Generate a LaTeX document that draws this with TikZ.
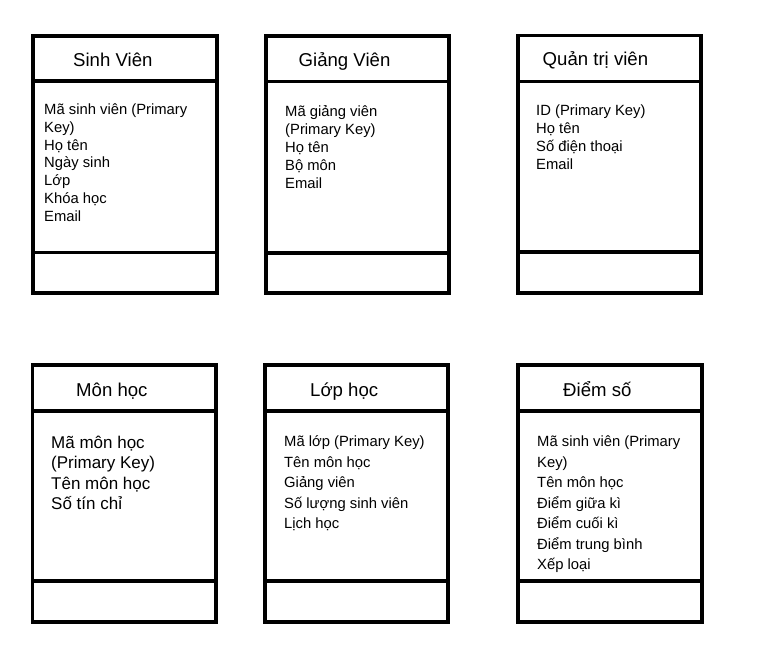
\documentclass[tikz,border=0pt]{standalone}
\usepackage{fontspec}
\setmainfont{Liberation Sans}
\begin{document}
\begin{tikzpicture}[x=1pt,y=-1pt,
  entity/.style={draw, line width=3.5pt, rectangle, inner sep=0pt, outer sep=0pt, anchor=north west},
  sep/.style={line width=3.5pt},
  ttl/.style={anchor=base west, inner sep=0pt, font=\fontsize{18.6}{22}\selectfont},
  attr/.style={anchor=base west, inner sep=0pt, font=\fontsize{14.8}{17}\selectfont},
  attrL/.style={anchor=base west, inner sep=0pt, font=\fontsize{17}{20}\selectfont}]
\useasboundingbox[fill=white] (0,0) rectangle (765,671);

% ---------- boxes ----------
\node[entity, minimum width=184pt, minimum height=257pt] (sv) at (33,36) {};
\node[entity, minimum width=183pt, minimum height=257pt] (gv) at (266,36) {};
\node[entity, minimum width=183pt, minimum height=257.5pt] (qt) at (518,35.5) {};
\node[entity, minimum width=183.5pt, minimum height=257pt] (mh) at (32.5,365) {};
\node[entity, minimum width=183pt, minimum height=257pt] (lh) at (265,365) {};
\node[entity, minimum width=184pt, minimum height=257pt] (ds) at (518,365) {};

\foreach \b/\h/\f in {sv/45/216.5, gv/45.5/217, qt/46/216.5, mh/46/216, lh/46/216, ds/46/216}{
  \draw[sep] ([yshift=-\h pt]\b.north west) -- ([yshift=-\h pt]\b.north east);
  \draw[sep] ([yshift=-\f pt]\b.north west) -- ([yshift=-\f pt]\b.north east);
}

% ---------- titles ----------
\node[ttl] (sv-t) at (73,66.5) {Sinh Viên};
\node[ttl] (gv-t) at (298.5,66.5) {Giảng Viên};
\node[ttl] (qt-t) at (542.5,66) {Quản trị viên};
\node[ttl] (mh-t) at (76,396) {Môn học};
\node[ttl] (lh-t) at (310,396) {Lớp học};
\node[ttl] (ds-t) at (563,396) {Điểm số};

% ---------- attributes ----------
\foreach \t [count=\i] in {Mã sinh viên (Primary, Key), Họ tên, Ngày sinh, Lớp, Khóa học, Email}
  \node[attr] (sv-\i) at (44,{114.5+17.8*(\i-1)}) {\t};
\foreach \t [count=\i] in {Mã giảng viên, (Primary Key), Họ tên, Bộ môn, Email}
  \node[attr] (gv-\i) at (285,{117+18*(\i-1)}) {\t};
\foreach \t [count=\i] in {ID (Primary Key), Họ tên, Số điện thoại, Email}
  \node[attr] (qt-\i) at (536,{115.5+18*(\i-1)}) {\t};
\foreach \t [count=\i] in {Mã môn học, (Primary Key), Tên môn học, Số tín chỉ}
  \node[attrL] (mh-\i) at (51,{448+20.5*(\i-1)}) {\t};
\foreach \t [count=\i] in {Mã lớp (Primary Key), Tên môn học, Giảng viên, Số lượng sinh viên, Lịch học}
  \node[attr] (lh-\i) at (284,{446.5+20.5*(\i-1)}) {\t};
\foreach \t [count=\i] in {Mã sinh viên (Primary, Key), Tên môn học, Điểm giữa kì, Điểm cuối kì, Điểm trung bình, Xếp loại}
  \node[attr] (ds-\i) at (537,{446.5+20.5*(\i-1)}) {\t};
\end{tikzpicture}
\end{document}
